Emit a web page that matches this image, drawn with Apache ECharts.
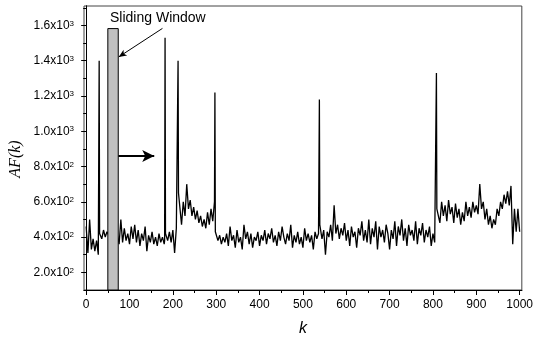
<!DOCTYPE html>
<html>
<head>
<meta charset="utf-8">
<script src="https://cdn.jsdelivr.net/npm/echarts@6/dist/echarts.min.js"></script>
<style>
  html, body { margin: 0; padding: 0; background: #fff; }
  #chart { width: 536px; height: 342px; }
</style>
</head>
<body>
<div id="chart"></div>
<script>
const kStep = 4;
const afValues = [
  460, 310, 500, 330, 390, 320, 380, 300, 420, 390,
  440, 400, 430, 410, 390, 420, 400, 380, 410, 360,
  500, 370, 450, 380, 420, 360, 460, 390, 470, 370,
  440, 350, 420, 380, 460, 320, 410, 370, 430, 360,
  400, 350, 420, 370, 400, 360, 420, 380, 430, 370,
  440, 310, 450, 460, 660, 470, 600, 520, 700, 560,
  610, 520, 570, 500, 550, 480, 520, 460, 500, 450,
  540, 470, 560, 490, 600, 430, 380, 410, 360, 400,
  370, 420, 350, 460, 380, 410, 340, 440, 370, 400,
  330, 470, 390, 430, 360, 420, 340, 400, 380, 430,
  350, 410, 380, 440, 360, 420, 390, 450, 370, 410,
  350, 430, 380, 460, 400, 360, 420, 380, 470, 340,
  410, 370, 430, 360, 400, 340, 450, 380, 420, 370,
  410, 330, 430, 390, 420, 480, 390, 440, 300, 430,
  400, 470, 380, 580, 420, 470, 390, 450, 410, 480,
  380, 440, 350, 460, 400, 430, 340, 450, 410, 490,
  380, 440, 370, 500, 360, 450, 400, 490, 330, 460,
  400, 440, 370, 470, 420, 330, 440, 390, 490, 350,
  460, 410, 500, 380, 450, 350, 470, 410, 440, 380,
  490, 360, 450, 410, 480, 370, 440, 400, 460, 350,
  420, 370, 500, 560, 480, 600, 520, 580, 490, 610,
  530, 570, 480, 590, 510, 560, 470, 540, 490, 600,
  520, 570, 510, 600, 540, 580, 530, 700, 560, 600,
  500, 560, 470, 520, 450, 500, 470, 560, 520, 600,
  560, 640, 590, 660, 580, 690, 360, 560, 430, 560,
  430
];

// isolated one-sample peaks and the samples right before / after them
const spikeK = [30, 182, 212, 297, 538, 808];
const spikeAF = [1400, 1530, 1400, 1220, 1180, 1330];
const spikeBeforeAF = [300, 380, 450, 600, 420, 380];
const spikeAfterAF = [420, 420, 650, 430, 470, 560];

// sliding window: [kStart, kEnd, top]
const windowBox = [50, 74, 1582];

const xTicks = [0, 100, 200, 300, 400, 500, 600, 700, 800, 900, 1000];
const xMinorTicks = [50, 150, 250, 350, 450, 550, 650, 750, 850, 950];
const yTicks = [200, 400, 600, 800, 1000, 1200, 1400, 1600];
const yMinorTicks = [300, 500, 700, 900, 1100, 1300, 1500, 1700];

// merge sampled series with peaks
const extra = [];
spikeK.forEach((k, i) => {
  extra.push([k - 1, spikeBeforeAF[i]], [k, spikeAF[i]], [k + 1, spikeAfterAF[i]]);
});
const extraK = extra.map(p => p[0]);
const points = afValues.map((v, i) => [i * kStep, v])
  .filter(p => extraK.indexOf(p[0]) < 0)
  .concat(extra)
  .sort((a, b) => a[0] - b[0]);

const chart = echarts.init(document.getElementById('chart'));

const font = '"Liberation Sans", Arial, sans-serif';
const sciLabel = v => {
  const e = v >= 1000 ? 3 : 2;
  return '{m|' + (v / Math.pow(10, e)).toFixed(1) + 'x10}{e|' + e + '}';
};

const baseX = {
  type: 'value', min: -5, max: 1005, position: 'bottom',
  splitLine: { show: false },
  axisLine: { lineStyle: { color: '#000', width: 1 } }
};
const baseY = {
  type: 'value', min: 100, max: 1710, position: 'left',
  splitLine: { show: false },
  axisLine: { show: true, lineStyle: { color: '#000', width: 1 } }
};

const option = {
  animation: false,
  backgroundColor: '#fff',
  grid: {
    left: 84, right: 10, top: 6, bottom: 49,
    show: true, borderColor: '#444', borderWidth: 1
  },
  xAxis: [
    Object.assign({}, baseX, {
      name: 'k', nameLocation: 'middle', nameGap: 31,
      nameTextStyle: { fontFamily: font, fontStyle: 'italic', fontSize: 16, color: '#000' },
      axisTick: { customValues: xTicks, length: 5, lineStyle: { color: '#000' } },
      axisLabel: {
        customValues: xTicks, margin: 9, formatter: v => String(v),
        fontFamily: font, fontSize: 12, color: '#000'
      }
    }),
    Object.assign({}, baseX, {
      axisTick: { customValues: xMinorTicks, length: 3, lineStyle: { color: '#000' } },
      axisLabel: { show: false }
    })
  ],
  yAxis: [
    Object.assign({}, baseY, {
      axisTick: { customValues: yTicks, length: 5, lineStyle: { color: '#000' } },
      axisLabel: {
        customValues: yTicks, margin: 10, formatter: sciLabel,
        rich: {
          m: { fontFamily: font, fontSize: 12, color: '#000' },
          e: { fontFamily: font, fontSize: 8, color: '#000', verticalAlign: 'top', lineHeight: 8 }
        }
      }
    }),
    Object.assign({}, baseY, {
      axisTick: { customValues: yMinorTicks, length: 3, lineStyle: { color: '#000' } },
      axisLabel: { show: false }
    })
  ],
  graphic: [
    {
      type: 'text', x: 110, y: 11, z: 100,
      style: { text: 'Sliding Window', font: '14px ' + font, fill: '#000' }
    },
    {
      type: 'text', x: 16, y: 159, rotation: Math.PI / 2, z: 100,
      style: {
        text: 'AF(k)', font: 'italic 16px "Liberation Serif", "Times New Roman", serif',
        fill: '#000', align: 'center', verticalAlign: 'middle'
      }
    }
  ],
  series: [
    {
      type: 'line',
      data: points,
      showSymbol: false,
      symbol: 'none',
      lineStyle: { color: '#000', width: 1.3 },
      z: 2
    },
    {
      type: 'custom',
      data: [windowBox],
      z: 5,
      renderItem: (params, api) => {
        const p0 = api.coord([api.value(0), 100]);
        const p1 = api.coord([api.value(1), api.value(2)]);
        return {
          type: 'rect',
          shape: { x: p0[0], y: p1[1], width: p1[0] - p0[0], height: p0[1] - p1[1] },
          style: { fill: '#c0c0c0', stroke: '#000', lineWidth: 1 }
        };
      }
    },
    {
      type: 'line', data: [], z: 6,
      markLine: {
        silent: true, symbol: ['none', 'arrow'], symbolSize: [9, 12],
        label: { show: false },
        lineStyle: { color: '#000', width: 2, type: 'solid' },
        data: [[{ coord: [74, 860] }, { coord: [157, 860] }]]
      }
    },
    {
      type: 'line', data: [], z: 6,
      markLine: {
        silent: true, symbol: ['none', 'arrow'], symbolSize: [5, 8],
        label: { show: false },
        lineStyle: { color: '#000', width: 1, type: 'solid' },
        data: [[{ coord: [176, 1583] }, { coord: [75, 1421] }]]
      }
    }
  ]
};

chart.setOption(option);
</script>
</body>
</html>
